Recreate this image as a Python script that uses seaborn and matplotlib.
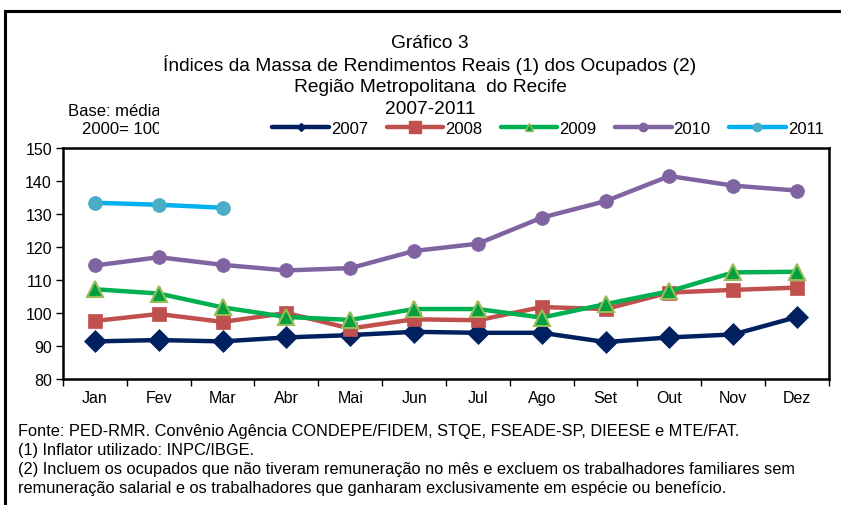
import matplotlib
matplotlib.use("Agg")
import matplotlib.pyplot as plt
import seaborn as sns
import pandas as pd
import numpy as np
from matplotlib.lines import Line2D
from matplotlib.patches import Rectangle
from matplotlib.transforms import Bbox

months = ["Jan", "Fev", "Mar", "Abr", "Mai", "Jun", "Jul", "Ago", "Set", "Out", "Nov", "Dez"]
v2007 = [91.4, 91.8, 91.4, 92.6, 93.3, 94.3, 94.0, 94.0, 91.2, 92.6, 93.5, 98.8]
v2008 = [97.6, 99.7, 97.3, 100.0, 95.3, 98.1, 97.8, 101.8, 101.2, 106.2, 107.0, 107.7]
v2009 = [107.2, 105.9, 101.7, 98.8, 97.9, 101.2, 101.2, 98.6, 102.7, 106.6, 112.3, 112.5]
v2010 = [114.4, 116.9, 114.6, 112.9, 113.6, 118.8, 121.0, 128.9, 133.9, 141.5, 138.6, 137.1]
v2011 = [133.4, 132.8, 131.9]
years = ["2007", "2008", "2009", "2010", "2011"]

series = {"2007": v2007, "2008": v2008, "2009": v2009, "2010": v2010, "2011": v2011}
styles = {
    "2007": dict(color="#002060", marker="D", ms=11, mfc="#002060", mec="#002060", lms=4),
    "2008": dict(color="#C0504D", marker="s", ms=10, mfc="#C0504D", mec="#C0504D", lms=8),
    "2009": dict(color="#00B050", marker="^", ms=12, mfc="#00A040", mec="#9BBB59", lms=6),
    "2010": dict(color="#8064A2", marker="o", ms=10, mfc="#8064A2", mec="#8064A2", lms=6),
    "2011": dict(color="#00B0F0", marker="o", ms=10, mfc="#4BACC6", mec="#4BACC6", lms=6),
}

sns.set_theme(style="white")
plt.rcParams["font.family"] = ["Liberation Sans", "DejaVu Sans"]
plt.rcParams["text.color"] = "black"
plt.rcParams["xtick.color"] = "black"
plt.rcParams["ytick.color"] = "black"

fig = plt.figure(figsize=(8.41, 5.06), dpi=100)
ax = fig.add_axes([63 / 841, 1 - 380 / 506, (829 - 63) / 841, (380 - 149) / 506])

for y in years:
    vals = series[y]
    df = pd.DataFrame({"mes": list(range(len(vals))), "valor": vals})
    st = styles[y]
    sns.lineplot(data=df, x="mes", y="valor", ax=ax, color=st["color"], linewidth=3.2,
                 marker=st["marker"], markersize=st["ms"], markerfacecolor=st["mfc"],
                 markeredgecolor=st["mec"], markeredgewidth=1.5 if y == "2009" else 0.5,
                 zorder=3)

ax.set_xlim(-0.5, 11.5)
ax.set_ylim(80, 150)
ax.set_yticks(np.arange(80, 151, 10))
ax.set_xticks(range(12))
ax.set_xticklabels(months)
ax.set_xticks(np.arange(-0.5, 12, 1), minor=True)
ax.tick_params(axis="x", which="major", length=0, pad=8, labelsize=11.5, labelcolor="black")
ax.tick_params(axis="x", which="minor", length=5, width=1, color="black", direction="out")
ax.tick_params(axis="y", which="major", length=5, width=1, color="black", direction="out",
               labelsize=11.5, pad=3, labelcolor="black")
ax.tick_params(axis="both", left=True, bottom=True)
ax.xaxis.set_tick_params(which="minor", bottom=True)
ax.set_xlabel("")
ax.set_ylabel("")
for sp in ax.spines.values():
    sp.set_color("black")
    sp.set_linewidth(1.8)
    sp.set_visible(True)

handles = []
for y in years:
    st = styles[y]
    handles.append(Line2D([], [], color=st["color"], linewidth=3.2, marker=st["marker"],
                          markersize=st["lms"], markerfacecolor=st["mfc"],
                          markeredgecolor=st["mec"]))
fig.legend(handles, years, loc="center", bbox_to_anchor=(548 / 841, 1 - 129 / 506), ncol=5,
           frameon=False, fontsize=12, handlelength=3.4, handletextpad=0.12,
           columnspacing=1.1, borderpad=0, labelcolor="black")

titles = ["Gráfico 3", "Índices da Massa de Rendimentos Reais (1) dos Ocupados (2)",
          "Região Metropolitana  do Recife", "2007-2011"]
for i, t in enumerate(titles):
    fig.text(430 / 841, 1 - (43 + 22 * i) / 506, t, ha="center", va="center", fontsize=13.8,
             color="black")

clip = Bbox.from_extents(0, 0, 159, 506)
t1 = fig.text(68 / 841, 1 - 111 / 506, "Base: média", ha="left", va="center", fontsize=12,
              color="black")
t2 = fig.text(82 / 841, 1 - 129 / 506, "2000= 100", ha="left", va="center", fontsize=12,
              color="black")
for t in (t1, t2):
    t.set_clip_box(clip)
    t.set_clip_on(True)

notes = ["Fonte: PED-RMR. Convênio Agência CONDEPE/FIDEM, STQE, FSEADE-SP, DIEESE e MTE/FAT.",
         "(1) Inflator utilizado: INPC/IBGE.",
         "(2) Incluem os ocupados que não tiveram remuneração no mês e excluem os trabalhadores familiares sem",
         "remuneração salarial e os trabalhadores que ganharam exclusivamente em espécie ou benefício."]
ny = [432, 451, 470, 489]
for t, yy in zip(notes, ny):
    fig.text(18 / 841, 1 - yy / 506, t, ha="left", va="center", fontsize=11.8, color="black")

fig.patches.append(Rectangle((5 / 841, -0.1), 2, 1 - 12 / 506 + 0.1, transform=fig.transFigure,
                             fill=False, edgecolor="black", linewidth=2.2))

fig.savefig("out.png", dpi=100)
